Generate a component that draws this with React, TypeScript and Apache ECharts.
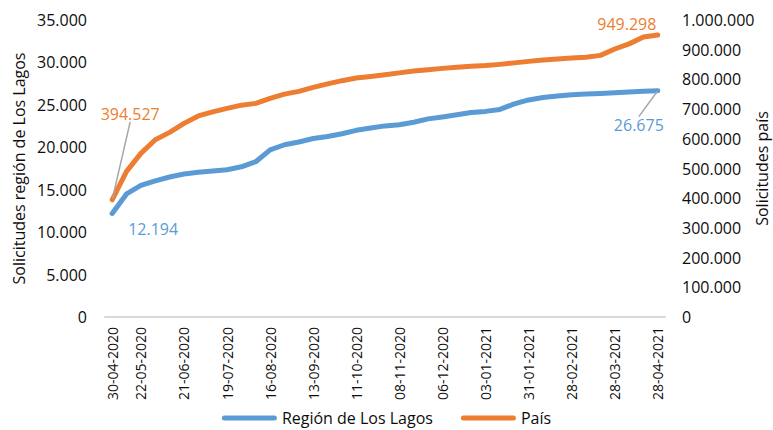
import React, { useEffect, useRef } from "react";
import * as echarts from "echarts";

const categories = [
  "30-04-2020", "11-05-2020", "22-05-2020", "01-06-2020", "11-06-2020", "21-06-2020",
  "30-06-2020", "09-07-2020", "19-07-2020", "28-07-2020", "06-08-2020", "16-08-2020",
  "25-08-2020", "03-09-2020", "13-09-2020", "22-09-2020", "01-10-2020", "11-10-2020",
  "20-10-2020", "29-10-2020", "08-11-2020", "17-11-2020", "26-11-2020", "06-12-2020",
  "15-12-2020", "24-12-2020", "03-01-2021", "12-01-2021", "21-01-2021", "31-01-2021",
  "09-02-2021", "18-02-2021", "28-02-2021", "09-03-2021", "18-03-2021", "28-03-2021",
  "07-04-2021", "17-04-2021", "28-04-2021",
];

const tickLabels = [
  "30-04-2020", "22-05-2020", "21-06-2020", "19-07-2020", "16-08-2020", "13-09-2020",
  "11-10-2020", "08-11-2020", "06-12-2020", "03-01-2021", "31-01-2021", "28-02-2021",
  "28-03-2021", "28-04-2021",
];

const losLagos = [
  12194, 14500, 15500, 16050, 16500, 16850, 17050, 17200, 17350, 17700, 18300, 19700,
  20300, 20620, 21030, 21280, 21600, 22000, 22270, 22520, 22650, 22950, 23350, 23580,
  23830, 24100, 24230, 24460, 25110, 25580, 25874, 26050, 26190, 26285, 26344, 26426,
  26520, 26602, 26675,
];

const pais = [
  394527, 490400, 551000, 597000, 621700, 652000, 677000, 690700, 702500, 713300, 719300,
  736200, 750300, 759700, 773200, 785000, 795700, 804500, 809500, 815300, 822000, 828000,
  832800, 837100, 841200, 843900, 846600, 850600, 855600, 860700, 865400, 868800, 871800,
  874800, 880900, 902400, 919600, 942800, 949298,
];

const leftTicks = { min: 0, max: 35000, interval: 5000 };
const rightTicks = { min: 0, max: 1000000, interval: 100000 };

const BLUE = "#5b9bd5";
const ORANGE = "#ed7d31";
const TEXT = "#0d0d0d";
const FONT = '"Open Sans", "Noto Sans", sans-serif';

const fmt = (v: number) =>
  Math.round(v).toString().replace(/\B(?=(\d{3})+(?!\d))/g, ".");

export default function App() {
  const ref = useRef<HTMLDivElement>(null);

  useEffect(() => {
    if (!ref.current) return;
    const chart = echarts.init(ref.current, null, { renderer: "svg" });
    const last = categories.length - 1;
    const tickSet = new Set(tickLabels);

    const blueData = losLagos.map((v, i) => {
      if (i === 0) return { value: v, label: { show: true, position: "bottom" } };
      if (i === last)
        return {
          value: v,
          label: { show: true, position: "bottom" },
          labelLine: { show: true },
        };
      return v;
    });
    const orangeData = pais.map((v, i) => {
      if (i === 0)
        return {
          value: v,
          label: { show: true, position: "top" },
          labelLine: { show: true },
        };
      if (i === last) return { value: v, label: { show: true, position: "top" } };
      return v;
    });

    const yCommon = {
      type: "value",
      nameLocation: "middle",
      nameRotate: 90,
      nameMoveOverlap: false,
      nameTextStyle: { fontSize: 16, color: TEXT, fontFamily: FONT },
      splitLine: { show: false },
      axisLine: { show: false },
      axisTick: { show: false },
    };

    chart.setOption({
      animation: false,
      textStyle: { fontFamily: FONT },
      grid: {
        left: 105,
        right: 108,
        top: 20,
        bottom: 113,
        containLabel: false,
        outerBoundsMode: "none",
      },
      legend: {
        left: "center",
        top: 405,
        icon: "path://M2.5,0H52.5A2.5,2.5,0,0,1,52.5,5H2.5A2.5,2.5,0,0,1,2.5,0Z",
        itemWidth: 55,
        itemHeight: 5,
        itemGap: 28,
        textStyle: { fontSize: 16, color: TEXT, fontFamily: FONT },
        data: ["Región de Los Lagos", "País"],
      },
      xAxis: {
        type: "category",
        data: categories,
        boundaryGap: true,
        axisLine: { lineStyle: { color: "#d9d9d9", width: 2 } },
        axisTick: { show: false },
        axisLabel: {
          interval: (_i: number, v: string) => tickSet.has(v),
          rotate: 90,
          fontSize: 14,
          color: TEXT,
          margin: 10,
          fontFamily: FONT,
        },
      },
      yAxis: [
        {
          ...yCommon,
          position: "left",
          ...leftTicks,
          name: "Solicitudes región de Los Lagos",
          nameGap: 78,
          axisLabel: { formatter: fmt, fontSize: 16, color: TEXT, margin: 18, fontFamily: FONT },
        },
        {
          ...yCommon,
          position: "right",
          ...rightTicks,
          name: "Solicitudes país",
          nameGap: 89,
          axisLabel: { formatter: fmt, fontSize: 16, color: TEXT, margin: 17, fontFamily: FONT },
        },
      ],
      series: [
        {
          name: "Región de Los Lagos",
          type: "line",
          yAxisIndex: 0,
          data: blueData,
          symbol: "circle",
          symbolSize: 2,
          showSymbol: true,
          lineStyle: { width: 5, color: BLUE, cap: "round", join: "round" },
          itemStyle: { color: BLUE },
          label: {
            color: BLUE,
            fontSize: 16,
            fontFamily: FONT,
            formatter: (p: any) => fmt(p.value),
          },
          labelLine: { lineStyle: { color: "#a6a6a6", width: 1.5 } },
          labelLayout: (p: any) => {
            if (p.dataIndex === 0) return { dx: 41, dy: 1 };
            if (p.dataIndex === last) return { dx: -19, dy: 20 };
            return {};
          },
        },
        {
          name: "País",
          type: "line",
          yAxisIndex: 1,
          data: orangeData,
          symbol: "circle",
          symbolSize: 2,
          showSymbol: true,
          lineStyle: { width: 5, color: ORANGE, cap: "round", join: "round" },
          itemStyle: { color: ORANGE },
          label: {
            color: ORANGE,
            fontSize: 16,
            fontFamily: FONT,
            formatter: (p: any) => fmt(p.value),
          },
          labelLine: { lineStyle: { color: "#a6a6a6", width: 1.5 } },
          labelLayout: (p: any) => {
            if (p.dataIndex === 0) return { dx: 18, dy: -72 };
            if (p.dataIndex === last) return { dx: -31, dy: 3 };
            return {};
          },
        },
      ],
    });

    return () => chart.dispose();
  }, []);

  return (
    <div
      ref={ref}
      style={{ position: "fixed", left: 0, top: 0, width: 773, height: 430, background: "#fff" }}
    />
  );
}
